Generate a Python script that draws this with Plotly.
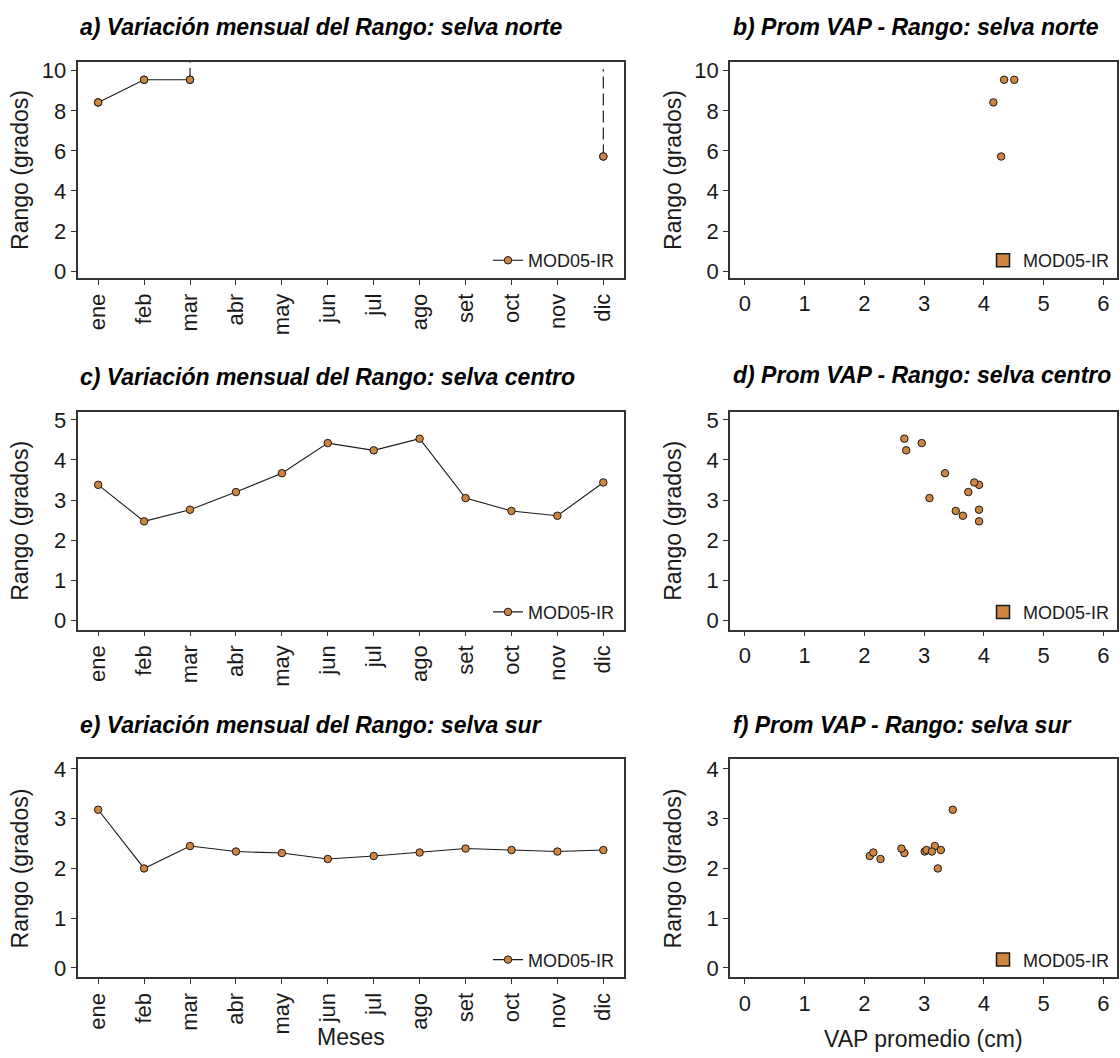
import plotly.graph_objects as go

# ---------------- datos ----------------
meses = ["ene", "feb", "mar", "abr", "may", "jun", "jul", "ago", "set", "oct", "nov", "dic"]

# Rango mensual (grados) por región
rango_norte = [8.42, 9.55, 9.55, None, None, None, None, None, None, None, None, 5.72]
rango_centro = [3.38, 2.47, 2.76, 3.20, 3.67, 4.42, 4.24, 4.53, 3.05, 2.73, 2.61, 3.44]
rango_sur = [3.18, 2.00, 2.45, 2.34, 2.31, 2.19, 2.25, 2.32, 2.40, 2.37, 2.34, 2.37]

# VAP promedio (cm) por mes
vap_norte = [4.16, 4.34, 4.51, None, None, None, None, None, None, None, None, 4.29]
vap_centro = [3.92, 3.92, 3.92, 3.74, 3.35, 2.96, 2.70, 2.67, 3.09, 3.53, 3.65, 3.84]
vap_sur = [3.48, 3.23, 3.18, 3.01, 2.67, 2.27, 2.09, 2.15, 2.62, 3.04, 3.13, 3.28]

# Extensiones discontinuas en selva norte (valores por encima del punto)
meses_ext_norte = ["mar", "dic"]
rango_ext_norte = [9.55, 5.72]
tope_ext_norte = [10.9, 10.08]

serie = "MOD05-IR"
relleno = "#CD853F"
borde = "#1a1a1a"
texto = "#1a1a1a"
fuente = "Liberation Sans, Arial, sans-serif"

W, H = 1120, 1058


def px_x(p):
    return p / W


def px_y(p):
    return 1 - p / H


# geometría de los paneles (en píxeles)
col_izq = (77.5, 624.0)
col_der = (730.0, 1117.0)
filas = [(58.3, 276.7), (411.7, 631.7), (762.7, 982.7)]
rangos_y = [[-0.35, 10.45], [-0.23, 5.2], [-0.19, 4.19]]
dticks_y = [2, 1, 1]

titulos_izq = [
    "a) Variación mensual del Rango: selva norte",
    "c) Variación mensual del Rango: selva centro",
    "e) Variación mensual del Rango: selva sur",
]
titulos_der = [
    "b) Prom VAP - Rango: selva norte",
    "d) Prom VAP - Rango: selva centro",
    "f) Prom VAP - Rango: selva sur",
]
titulos_y_px = [[23.3, 23.3], [376.5, 375.0], [728.3, 728.3]]

rangos = [rango_norte, rango_centro, rango_sur]
vaps = [vap_norte, vap_centro, vap_sur]

fig = go.Figure()
layout = dict(
    width=W,
    height=H,
    autosize=False,
    margin=dict(l=0, r=0, t=0, b=0),
    paper_bgcolor="white",
    plot_bgcolor="white",
    font=dict(family=fuente, color=texto),
    showlegend=True,
)

eje_comun = dict(
    showline=True,
    mirror=True,
    linecolor="#333333",
    linewidth=1.5,
    ticks="outside",
    ticklen=5,
    tickwidth=1.2,
    tickcolor="#333333",
    showgrid=False,
    zeroline=False,
    tickfont=dict(family=fuente, size=22, color=texto),
)

anotaciones = []
marcador = dict(size=7.5, color=relleno, line=dict(color=borde, width=1))

for i in range(3):
    top, bot = filas[i]
    dom_y = [px_y(bot), px_y(top)]
    ix_l = 2 * i + 1
    ix_r = 2 * i + 2
    xa_l = "x" if ix_l == 1 else f"x{ix_l}"
    ya_l = "y" if ix_l == 1 else f"y{ix_l}"
    xa_r = f"x{ix_r}"
    ya_r = f"y{ix_r}"
    leg_l = "legend" if ix_l == 1 else f"legend{ix_l}"
    leg_r = f"legend{ix_r}"

    # panel izquierdo: variación mensual
    fig.add_trace(go.Scatter(
        x=meses, y=rangos[i], mode="lines+markers", name=serie,
        line=dict(color="#1a1a1a", width=1.1),
        marker=marcador,
        connectgaps=False,
        xaxis=xa_l, yaxis=ya_l, legend=leg_l,
    ))
    if i == 0:
        for m, y0, y1 in zip(meses_ext_norte, rango_ext_norte, tope_ext_norte):
            fig.add_trace(go.Scatter(
                x=[m, m], y=[y0, y1], mode="lines",
                line=dict(color="#1a1a1a", width=1.2, dash="12px,5px"),
                showlegend=False, hoverinfo="skip",
                xaxis=xa_l, yaxis=ya_l,
            ))
        # redibuja los puntos sobre las extensiones
        fig.add_trace(go.Scatter(
            x=meses, y=rangos[i], mode="markers", showlegend=False,
            marker=marcador,
            xaxis=xa_l, yaxis=ya_l,
        ))

    # panel derecho: dispersión VAP vs Rango
    fig.add_trace(go.Scatter(
        x=vaps[i], y=rangos[i], mode="markers", name=serie, showlegend=False,
        marker=marcador,
        xaxis=xa_r, yaxis=ya_r,
    ))
    fig.add_trace(go.Scatter(
        x=[None], y=[None], mode="markers", name=serie,
        marker=dict(symbol="square", size=13, color=relleno, line=dict(color=borde, width=1.5)),
        xaxis=xa_r, yaxis=ya_r, legend=leg_r,
    ))

    ejes_x_l = dict(eje_comun)
    ejes_x_l.update(
        domain=[px_x(col_izq[0]), px_x(col_izq[1])], anchor=ya_l,
        type="category", categoryorder="array", categoryarray=meses,
        tickmode="array", tickvals=meses, ticktext=meses,
        range=[-0.45, 11.45], tickangle=-90,
    )
    ejes_y_l = dict(eje_comun)
    ejes_y_l.update(domain=dom_y, anchor=xa_l, range=rangos_y[i], dtick=dticks_y[i], tick0=0)
    ejes_x_r = dict(eje_comun)
    ejes_x_r.update(
        domain=[px_x(col_der[0]), px_x(col_der[1])], anchor=ya_r,
        range=[-0.25, 6.23], dtick=1, tick0=0,
    )
    ejes_y_r = dict(eje_comun)
    ejes_y_r.update(domain=dom_y, anchor=xa_r, range=rangos_y[i], dtick=dticks_y[i], tick0=0)

    layout["xaxis" if ix_l == 1 else f"xaxis{ix_l}"] = ejes_x_l
    layout["yaxis" if ix_l == 1 else f"yaxis{ix_l}"] = ejes_y_l
    layout[f"xaxis{ix_r}"] = ejes_x_r
    layout[f"yaxis{ix_r}"] = ejes_y_r

    ley = dict(
        font=dict(family=fuente, size=18, color=texto),
        bgcolor="rgba(0,0,0,0)",
        xanchor="right", yanchor="bottom",
        y=px_y(bot + 1), borderwidth=0,
        itemclick=False, itemdoubleclick=False,
    )
    ley_l = dict(ley)
    ley_l.update(x=px_x(col_izq[1] - 4))
    ley_r = dict(ley)
    ley_r.update(x=px_x(col_der[1] - 2), itemwidth=30)
    layout[leg_l] = ley_l
    layout[leg_r] = ley_r

    # títulos de panel
    anotaciones.append(dict(
        text=f"<b><i>{titulos_izq[i]}</i></b>", xref="paper", yref="paper",
        x=px_x(col_izq[0]), y=px_y(titulos_y_px[i][0]), xanchor="left", yanchor="middle",
        showarrow=False, font=dict(family=fuente, size=23, color="#000000"),
    ))
    anotaciones.append(dict(
        text=f"<b><i>{titulos_der[i]}</i></b>", xref="paper", yref="paper",
        x=px_x(731), y=px_y(titulos_y_px[i][1]), xanchor="left", yanchor="middle",
        showarrow=False, font=dict(family=fuente, size=23, color="#000000"),
    ))
    # títulos de eje y
    centro_y = px_y((top + bot) / 2)
    for xc in (20, 673):
        anotaciones.append(dict(
            text="Rango (grados)", xref="paper", yref="paper",
            x=px_x(xc), y=centro_y, xanchor="center", yanchor="middle",
            textangle=-90, showarrow=False,
            font=dict(family=fuente, size=23, color=texto),
        ))

anotaciones.append(dict(
    text="Meses", xref="paper", yref="paper",
    x=px_x((col_izq[0] + col_izq[1]) / 2), y=px_y(1043), xanchor="center", yanchor="middle",
    showarrow=False, font=dict(family=fuente, size=23, color=texto),
))
anotaciones.append(dict(
    text="VAP promedio (cm)", xref="paper", yref="paper",
    x=px_x(923), y=px_y(1045), xanchor="center", yanchor="middle",
    showarrow=False, font=dict(family=fuente, size=23, color=texto),
))
layout["annotations"] = anotaciones

fig.update_layout(**layout)
fig.write_html("out.html")
